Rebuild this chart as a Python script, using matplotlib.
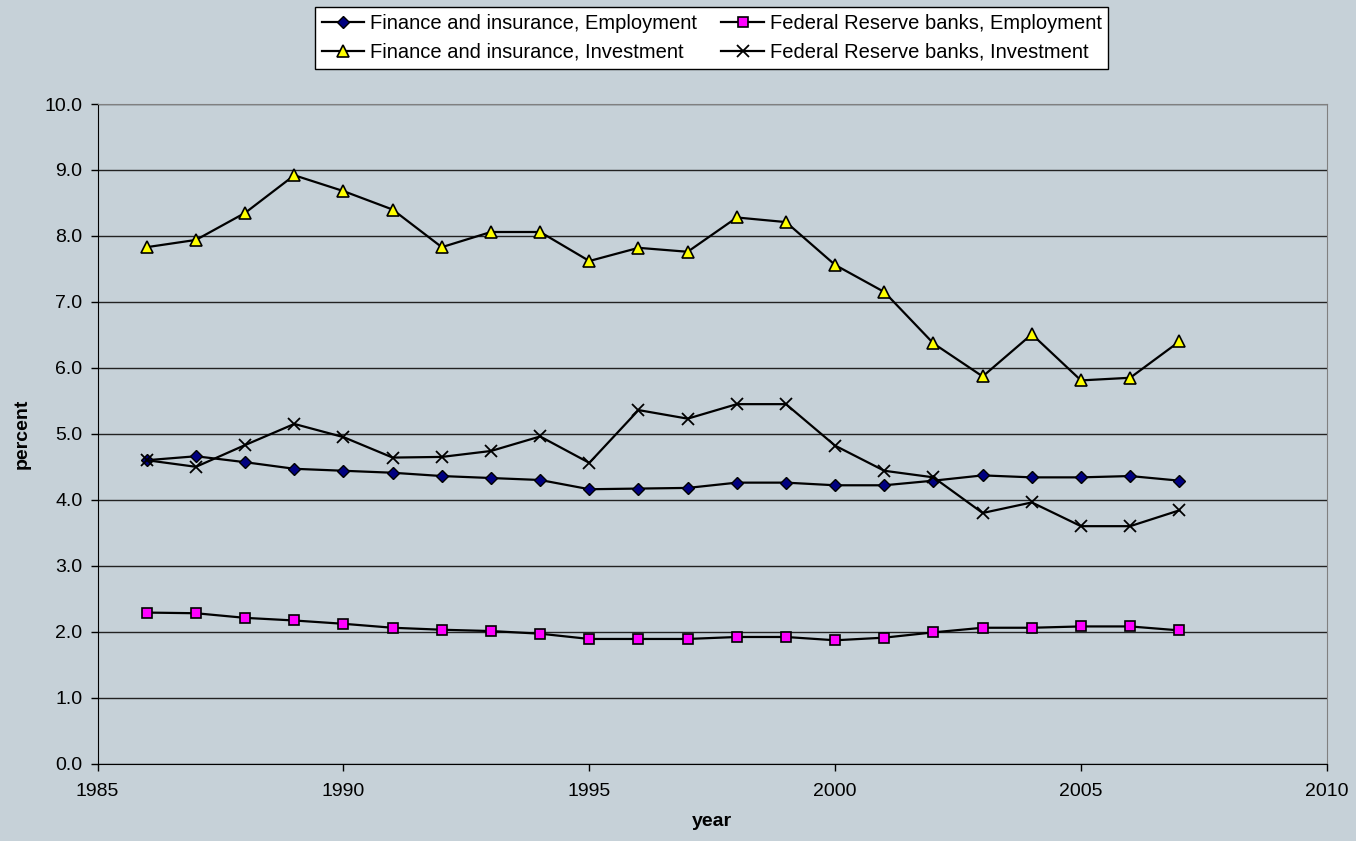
import matplotlib.pyplot as plt
from matplotlib.ticker import FormatStrFormatter

plt.rcParams['font.family'] = ['Liberation Sans', 'DejaVu Sans']

years = list(range(1986, 2008))

fin_emp = [4.60, 4.66, 4.57, 4.47, 4.44, 4.41, 4.36, 4.33, 4.30, 4.16, 4.17,
           4.18, 4.26, 4.26, 4.22, 4.22, 4.29, 4.37, 4.34, 4.34, 4.36, 4.29]
fed_emp = [2.29, 2.28, 2.21, 2.17, 2.12, 2.06, 2.03, 2.01, 1.97, 1.89, 1.89,
           1.89, 1.92, 1.92, 1.87, 1.91, 1.99, 2.06, 2.06, 2.08, 2.08, 2.02]
fin_inv = [7.83, 7.94, 8.35, 8.92, 8.68, 8.40, 7.83, 8.06, 8.06, 7.62, 7.82,
           7.76, 8.28, 8.21, 7.56, 7.15, 6.37, 5.87, 6.51, 5.81, 5.85, 6.40]
fed_inv = [4.60, 4.50, 4.83, 5.15, 4.95, 4.64, 4.65, 4.74, 4.96, 4.56, 5.36,
           5.23, 5.45, 5.45, 4.82, 4.44, 4.34, 3.80, 3.96, 3.60, 3.60, 3.84]

bg = '#C6D1D8'
fig = plt.figure(figsize=(13.56, 8.41), dpi=100, facecolor=bg)
ax = fig.add_axes([0.072, 0.092, 0.9065, 0.7843])
ax.set_facecolor(bg)

l1, = ax.plot(years, fin_emp, color='black', lw=1.6, marker='D', ms=6.5,
              mfc='#000080', mec='black', mew=1)
l2, = ax.plot(years, fed_emp, color='black', lw=1.6, marker='s', ms=7,
              mfc='#FF00FF', mec='black', mew=1.2)
l3, = ax.plot(years, fin_inv, color='black', lw=1.6, marker='^', ms=8.5,
              mfc='#FFFF00', mec='black', mew=1.2)
l4, = ax.plot(years, fed_inv, color='black', lw=1.6, marker='x', ms=9,
              mec='black', mew=1.3)

ax.set_xlim(1985, 2010)
ax.set_ylim(0, 10)
ax.set_xticks(range(1985, 2011, 5))
ax.set_yticks([i for i in range(11)])
ax.yaxis.set_major_formatter(FormatStrFormatter('%.1f'))
ax.grid(axis='y', color='#222222', lw=1)
ax.set_axisbelow(True)
ax.tick_params(direction='out', length=5, width=1, labelsize=14, color='black')
ax.tick_params(axis='x', pad=9)
ax.tick_params(axis='y', pad=6)
for s in ['top', 'right']:
    ax.spines[s].set_color('#808080')
for s in ['left', 'bottom']:
    ax.spines[s].set_color('black')

ax.set_xlabel('year', fontsize=14, fontweight='bold', labelpad=9)
ax.set_ylabel('percent', fontsize=14, fontweight='bold', labelpad=10)

leg = fig.legend([l1, l3, l2, l4],
                 ['Finance and insurance, Employment', 'Finance and insurance, Investment',
                  'Federal Reserve banks, Employment', 'Federal Reserve banks, Investment'],
                 ncol=2, loc='center', bbox_to_anchor=(0.525, 0.955),
                 fontsize=14.5, frameon=True, fancybox=False, framealpha=1,
                 edgecolor='black', handlelength=2.1, handletextpad=0.3,
                 columnspacing=1.2, labelspacing=0.5, borderpad=0.33)
leg.get_frame().set_linewidth(1)

fig.savefig('out.png', dpi=100, facecolor=bg)
